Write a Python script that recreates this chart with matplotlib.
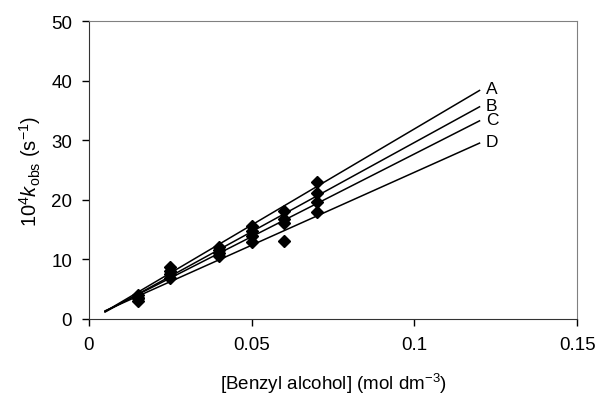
import numpy as np
import matplotlib.pyplot as plt

plt.rcParams['font.family'] = ['Liberation Sans', 'DejaVu Sans']
plt.rcParams['mathtext.fontset'] = 'custom'
plt.rcParams['mathtext.rm'] = 'Liberation Sans'
plt.rcParams['mathtext.it'] = 'Liberation Sans:italic'

# [Benzyl alcohol] concentrations (mol dm^-3)
conc = [0.015, 0.025, 0.04, 0.05, 0.06, 0.07]

# 10^4 k_obs values for each series
k_A = [4.1, 8.7, 12.1, 15.6, 18.2, 23.0]
k_B = [3.6, 8.0, 11.6, 14.8, 16.8, 21.1]
k_C = [3.6, 7.55, 11.0, 13.9, 16.1, 19.6]
k_D = [3.1, 6.8, 10.6, 13.0, 13.1, 17.9]

series = {'A': k_A, 'B': k_B, 'C': k_C, 'D': k_D}
fit_range = [0.005, 0.12]

fig = plt.figure(figsize=(6, 4.02), dpi=100)
ax = fig.add_axes([0.148, 0.204, 0.814, 0.741])

x = np.array(conc)
xx = np.array(fit_range)
for name, k in series.items():
    y = np.array(k)
    # linear trendline, extended a little both ways
    m, c = np.polyfit(x, y, 1)
    ax.plot(xx, m * xx + c, 'k-', lw=1.1)
    ax.plot(x, y, 'kD', ms=6)
    ax.text(xx[-1] + 0.002, m * xx[-1] + c + 0.3, name, fontsize=12.5, va='center', ha='left')

ax.set_xlim(0, 0.15)
ax.set_ylim(0, 50)
ax.set_xticks([0, 0.05, 0.1, 0.15])
ax.set_xticklabels(['0', '0.05', '0.1', '0.15'])
ax.set_yticks(range(0, 51, 10))
ax.tick_params(labelsize=13.5, direction='out', length=5, width=1, pad=7)

for s in ['top', 'right']:
    ax.spines[s].set_color('#808080')
for s in ['left', 'bottom']:
    ax.spines[s].set_color('#333333')

ax.set_xlabel(r'[Benzyl alcohol] (mol dm$^{-3}$)', fontsize=13.5, labelpad=13)
ax.set_ylabel(r'$\mathregular{10^4}\mathit{k}\mathregular{_{obs}\ (s^{-1})}$', fontsize=14.5, labelpad=6)

plt.savefig('out.png')
